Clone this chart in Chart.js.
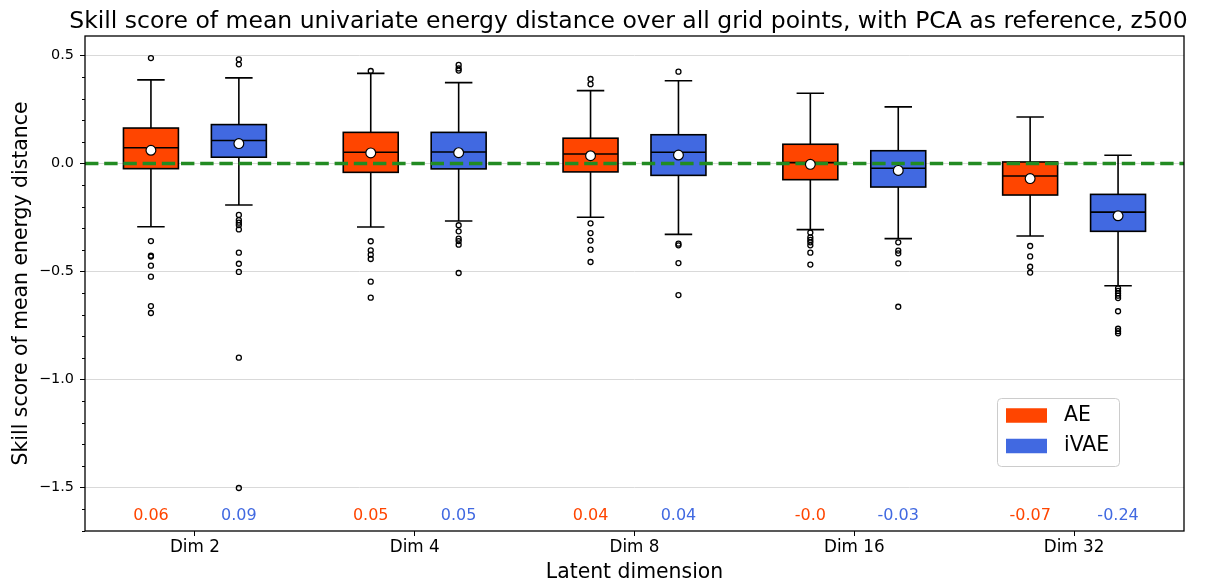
<!DOCTYPE html>
<html>
<head>
<meta charset="utf-8">
<title>Skill score of mean univariate energy distance</title>
<script src="https://cdn.jsdelivr.net/npm/chart.js@4.4.1/dist/chart.umd.min.js"></script>
<style>
  html, body { margin: 0; padding: 0; background: #fff; }
  #wrap { width: 1212px; height: 587px; }
</style>
</head>
<body>
<div id="wrap"><canvas id="chart" width="1212" height="587"></canvas></div>
<script>
const dims = ['Dim 2', 'Dim 4', 'Dim 8', 'Dim 16', 'Dim 32'];
const yTicks = [-1.5, -1.0, -0.5, 0.0, 0.5];

// AE: box statistics per latent dimension
const aeQ1 = [-0.024, -0.041, -0.039, -0.075, -0.146];
const aeMedian = [0.073, 0.052, 0.044, 0.004, -0.058];
const aeQ3 = [0.164, 0.144, 0.117, 0.089, 0.007];
const aeLow = [-0.293, -0.294, -0.249, -0.306, -0.336];
const aeHigh = [0.387, 0.417, 0.337, 0.325, 0.215];
const aeMean = [0.061, 0.049, 0.036, -0.004, -0.070];
const aeFliers = [
  [0.488, -0.359, -0.427, -0.431, -0.473, -0.524, -0.660, -0.692],
  [0.428, -0.360, -0.402, -0.422, -0.442, -0.547, -0.621],
  [0.391, 0.367, -0.277, -0.322, -0.357, -0.399, -0.456],
  [-0.320, -0.342, -0.354, -0.365, -0.379, -0.413, -0.468],
  [-0.382, -0.430, -0.478, -0.505]
];

// iVAE: box statistics per latent dimension
const ivaeQ1 = [0.029, -0.025, -0.055, -0.109, -0.314];
const ivaeMedian = [0.106, 0.053, 0.052, -0.022, -0.225];
const ivaeQ3 = [0.180, 0.144, 0.133, 0.059, -0.143];
const ivaeLow = [-0.192, -0.266, -0.328, -0.348, -0.566];
const ivaeHigh = [0.396, 0.374, 0.383, 0.262, 0.038];
const ivaeMean = [0.092, 0.050, 0.039, -0.032, -0.242];
const ivaeFliers = [
  [0.482, 0.459, -0.238, -0.262, -0.274, -0.285, -0.305, -0.413, -0.464, -0.502, -0.899, -1.502],
  [0.456, 0.440, 0.430, -0.286, -0.314, -0.348, -0.359, -0.376, -0.507],
  [0.425, -0.371, -0.379, -0.461, -0.609],
  [-0.365, -0.403, -0.416, -0.462, -0.663],
  [-0.578, -0.590, -0.601, -0.612, -0.623, -0.684, -0.765, -0.776, -0.786]
];

const BOX_W = 0.25;      // box width in category units
const SHIFT = 0.2;       // AE left of the tick, iVAE right of it
const LABEL_Y = -1.65;   // where the mean values are printed
const FONT = "'DejaVu Sans', sans-serif";

const groups = [
  { name: 'AE', color: '#FF4500', shift: -SHIFT, q1: aeQ1, med: aeMedian, q3: aeQ3, lo: aeLow, hi: aeHigh, mean: aeMean },
  { name: 'iVAE', color: '#4169E1', shift: SHIFT, q1: ivaeQ1, med: ivaeMedian, q3: ivaeQ3, lo: ivaeLow, hi: ivaeHigh, mean: ivaeMean }
];

// python-style str(round(v, 2)), keeps the "-0.0"
function fmtMean(v) {
  let s = String(Math.round(Math.abs(v) * 100) / 100);
  if (!s.includes('.')) s += '.0';
  return (v < 0 ? '-' : '') + s;
}

const boxPlugin = {
  id: 'boxes',
  beforeDatasetsDraw(chart) {
    const { ctx, chartArea: a, scales: { x, y } } = chart;
    const hw = (x.getPixelForValue(BOX_W / 2) - x.getPixelForValue(0));
    const cw = hw / 2;
    ctx.save();
    ctx.beginPath();
    ctx.rect(a.left, a.top, a.right - a.left, a.bottom - a.top);
    ctx.clip();
    ctx.strokeStyle = '#000';
    ctx.lineWidth = 1.6;
    groups.forEach(g => {
      dims.forEach((d, i) => {
        const xc = x.getPixelForValue(i + g.shift);
        const yq1 = y.getPixelForValue(g.q1[i]);
        const yq3 = y.getPixelForValue(g.q3[i]);
        const ylo = y.getPixelForValue(g.lo[i]);
        const yhi = y.getPixelForValue(g.hi[i]);
        const ymed = y.getPixelForValue(g.med[i]);
        // whiskers and caps
        ctx.beginPath();
        ctx.moveTo(xc, yq1); ctx.lineTo(xc, ylo);
        ctx.moveTo(xc, yq3); ctx.lineTo(xc, yhi);
        ctx.moveTo(xc - cw, ylo); ctx.lineTo(xc + cw, ylo);
        ctx.moveTo(xc - cw, yhi); ctx.lineTo(xc + cw, yhi);
        ctx.stroke();
        // box
        ctx.fillStyle = g.color;
        ctx.fillRect(xc - hw, yq3, 2 * hw, yq1 - yq3);
        ctx.strokeRect(xc - hw, yq3, 2 * hw, yq1 - yq3);
        // median
        ctx.beginPath();
        ctx.moveTo(xc - hw, ymed); ctx.lineTo(xc + hw, ymed);
        ctx.stroke();
      });
    });
    ctx.restore();
  },
  afterDraw(chart) {
    const { ctx, chartArea: a, scales: { x, y } } = chart;
    ctx.save();

    // minor ticks every 0.1 on the y axis
    ctx.strokeStyle = '#000';
    ctx.lineWidth = 1;
    ctx.beginPath();
    for (let k = -17; k <= 5; k++) {
      if (k % 5 === 0) continue;
      const py = Math.round(y.getPixelForValue(k / 10)) + 0.5;
      ctx.moveTo(a.left - 3, py); ctx.lineTo(a.left, py);
    }
    ctx.stroke();

    // axes frame
    ctx.lineWidth = 1.3;
    ctx.strokeRect(a.left, a.top, a.right - a.left, a.bottom - a.top);

    // mean values under the boxes
    ctx.font = '16px ' + FONT;
    ctx.textAlign = 'center';
    ctx.textBaseline = 'alphabetic';
    groups.forEach(g => {
      ctx.fillStyle = g.color;
      g.mean.forEach((m, i) => {
        ctx.fillText(fmtMean(m), x.getPixelForValue(i + g.shift), y.getPixelForValue(LABEL_Y));
      });
    });

    // legend, lower right
    const lx = a.right - 187, ly = a.bottom - 133, lw = 122, lh = 68;
    ctx.beginPath();
    ctx.roundRect(lx + 0.5, ly + 0.5, lw, lh, 4);
    ctx.fillStyle = 'rgba(255,255,255,0.8)';
    ctx.fill();
    ctx.strokeStyle = '#cccccc';
    ctx.lineWidth = 1;
    ctx.stroke();
    ctx.font = '20.4px ' + FONT;
    ctx.textAlign = 'left';
    ctx.textBaseline = 'middle';
    groups.forEach((g, j) => {
      const cy = ly + 17.5 + j * 30.5;
      ctx.fillStyle = g.color;
      ctx.fillRect(lx + 9, cy - 7.25, 41, 14.5);
      ctx.fillStyle = '#000';
      ctx.fillText(g.name, lx + 67, cy);
    });

    // title
    ctx.font = '23.5px ' + FONT;
    ctx.textAlign = 'center';
    ctx.textBaseline = 'alphabetic';
    ctx.fillStyle = '#000';
    ctx.fillText('Skill score of mean univariate energy distance over all grid points, with PCA as reference, z500',
      (a.left + a.right) / 2 - 6, 27.5);
    ctx.restore();
  }
};

const datasets = [
  ...groups.map(g => ({
    label: g.name + ' mean',
    data: g.mean.map((m, i) => ({ x: i + g.shift, y: m })),
    pointRadius: 4.9,
    pointBackgroundColor: '#fff',
    pointBorderColor: '#000',
    pointBorderWidth: 1.2
  })),
  {
    label: 'AE outliers',
    data: aeFliers.flatMap((vals, i) => vals.map(v => ({ x: i - SHIFT, y: v }))),
    pointRadius: 2.5,
    pointBackgroundColor: 'rgba(0,0,0,0)',
    pointBorderColor: '#000',
    pointBorderWidth: 1.3
  },
  {
    label: 'iVAE outliers',
    data: ivaeFliers.flatMap((vals, i) => vals.map(v => ({ x: i + SHIFT, y: v }))),
    pointRadius: 2.5,
    pointBackgroundColor: 'rgba(0,0,0,0)',
    pointBorderColor: '#000',
    pointBorderWidth: 1.3
  },
  {
    // zero reference line
    type: 'line',
    label: 'zero',
    data: [{ x: -0.5, y: 0 }, { x: 4.5, y: 0 }],
    borderColor: '#228B22',
    borderWidth: 3.4,
    borderDash: [13.4, 5.8],
    borderCapStyle: 'butt',
    pointRadius: 0,
    fill: false
  }
];

Chart.defaults.font.family = FONT;
Chart.defaults.color = '#000';

new Chart(document.getElementById('chart'), {
  type: 'scatter',
  data: { datasets },
  options: {
    responsive: false,
    animation: false,
    devicePixelRatio: 1,
    layout: { padding: { top: 36, right: 28, left: 0, bottom: 0 } },
    plugins: {
      legend: { display: false },
      tooltip: { enabled: false },
      title: { display: false }
    },
    scales: {
      x: {
        type: 'linear',
        min: -0.5,
        max: 4.5,
        afterBuildTicks: s => { s.ticks = dims.map((d, i) => ({ value: i })); },
        afterFit: s => { s.height = 56; },
        ticks: {
          callback: v => dims[Math.round(v)],
          font: { size: 16.8 },
          color: '#000',
          padding: 2,
          maxRotation: 0,
          autoSkip: false
        },
        grid: { drawOnChartArea: false, drawTicks: true, tickLength: 5, tickColor: '#000', tickWidth: 1 },
        border: { display: false },
        title: {
          display: true,
          text: 'Latent dimension',
          font: { size: 20.4 },
          color: '#000',
          padding: { top: 0, bottom: 2 }
        }
      },
      y: {
        type: 'linear',
        min: -1.701,
        max: 0.590,
        afterBuildTicks: s => { s.ticks = yTicks.map(v => ({ value: v })); },
        afterFit: s => { s.width = 85; },
        ticks: {
          callback: v => v.toFixed(1).replace('-', '\u2212'),
          font: { size: 14.4 },
          color: '#000',
          padding: 6
        },
        grid: { color: '#d9d9d9', lineWidth: 1, drawTicks: true, tickLength: 5, tickColor: '#000', tickWidth: 1 },
        border: { display: false },
        title: {
          display: true,
          text: 'Skill score of mean energy distance',
          font: { size: 20.4 },
          color: '#000',
          padding: { top: 9.5, bottom: 0 }
        }
      }
    }
  },
  plugins: [boxPlugin]
});
</script>
</body>
</html>
